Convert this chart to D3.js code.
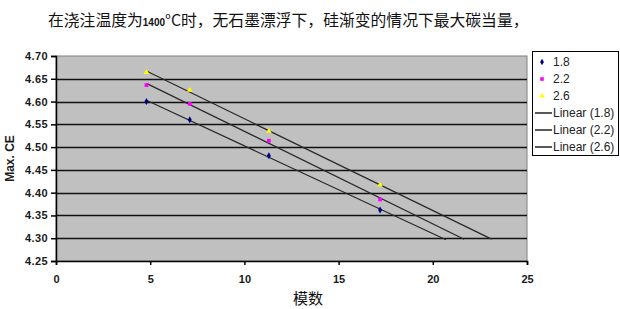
<!DOCTYPE html>
<html>
<head>
<meta charset="utf-8">
<script src="https://cdn.jsdelivr.net/npm/d3@7"></script>
<style>
html,body{margin:0;padding:0;background:#fff;}
svg{display:block;}
</style>
</head>
<body>
<svg id="chart" width="620" height="309"></svg>
<script>
// ---- data ----
const moduli = [4.8, 7.1, 11.3, 17.2];
const seriesNames = ["1.8", "2.2", "2.6"];
const ce18 = [4.600, 4.560, 4.481, 4.362];
const ce22 = [4.636, 4.595, 4.514, 4.385];
const ce26 = [4.664, 4.625, 4.535, 4.417];
const trendEnd = [20.7, 21.66, 23.12];
const xTicks = [0, 5, 10, 15, 20, 25];
const yTicks = [4.25, 4.30, 4.35, 4.40, 4.45, 4.50, 4.55, 4.60, 4.65, 4.70];
const seriesColors = ["#000080", "#ff00ff", "#ffff00"];
const seriesSymbols = [d3.symbolDiamond, d3.symbolSquare, d3.symbolTriangle];

const series = [ce18, ce22, ce26].map((vals, i) => ({
  name: seriesNames[i],
  color: seriesColors[i],
  symbol: seriesSymbols[i],
  end: trendEnd[i],
  points: moduli.map((m, j) => ({x: m, y: vals[j]}))
}));

const svg = d3.select("#chart");
const L = 56, R = 527, T = 56, B = 261;
const x = d3.scaleLinear().domain([0, 25]).range([L, R]);
const y = d3.scaleLinear().domain([4.25, 4.70]).range([B, T]);

// title
const title = svg.append("text").attr("x", 48).attr("y", 26)
  .attr("font-family", "'Noto Sans CJK SC', sans-serif").attr("font-size", 15.8).attr("fill", "#111");
title.append("tspan").text("在浇注温度为");
title.append("tspan").attr("font-family", "'Liberation Sans', Arial, sans-serif")
  .attr("font-weight", "bold").attr("font-size", 10).text("1400");
title.append("tspan").text("°C时，无石墨漂浮下，硅渐变的情况下最大碳当量，");

// plot area
svg.append("rect").attr("x", L).attr("y", T).attr("width", R - L).attr("height", B - T)
  .attr("fill", "#c0c0c0").attr("stroke", "#808080").attr("stroke-width", 1);

// gridlines
svg.append("g").selectAll("line").data(yTicks.filter(v => v > 4.251 && v < 4.699)).join("line")
  .attr("x1", L).attr("x2", R)
  .attr("y1", d => Math.round(y(d)) + 0.5).attr("y2", d => Math.round(y(d)) + 0.5)
  .attr("stroke", "#111").attr("stroke-width", 1.7);

// axes
const yAxis = svg.append("g").attr("transform", `translate(${L},0)`)
  .call(d3.axisLeft(y).tickValues(yTicks).tickFormat(d3.format(".2f")).tickSize(5).tickPadding(3));
const xAxis = svg.append("g").attr("transform", `translate(0,${B})`)
  .call(d3.axisBottom(x).tickValues(xTicks).tickFormat(d3.format("d")).tickSize(4).tickPadding(10));
[yAxis, xAxis].forEach(g => {
  g.select(".domain").attr("stroke", "#000").attr("stroke-width", 1.5);
  g.selectAll(".tick line").attr("stroke", "#000").attr("stroke-width", 1.5);
  g.selectAll("text").attr("font-family", "'Liberation Sans', Arial, sans-serif")
    .attr("font-weight", "bold").attr("font-size", 11).attr("fill", "#1a1a1a");
});
yAxis.selectAll("text").attr("letter-spacing", "0.4px");

// axis titles
svg.append("text").attr("transform", `translate(14,${(T + B) / 2}) rotate(-90)`)
  .attr("text-anchor", "middle")
  .attr("font-family", "'Liberation Sans', Arial, sans-serif").attr("font-weight", "bold")
  .attr("font-size", 12).attr("fill", "#1a1a1a").text("Max. CE");
svg.append("text").attr("x", 308).attr("y", 304).attr("text-anchor", "middle")
  .attr("font-family", "'Noto Sans CJK SC', sans-serif").attr("font-size", 15).attr("fill", "#111")
  .text("模数");

// trendlines (least squares)
series.forEach(s => {
  const mx = d3.mean(s.points, p => p.x), my = d3.mean(s.points, p => p.y);
  const sxy = d3.sum(s.points, p => (p.x - mx) * (p.y - my));
  const sxx = d3.sum(s.points, p => (p.x - mx) ** 2);
  const k = sxy / sxx, b = my - k * mx;
  const x0 = d3.min(s.points, p => p.x);
  svg.append("line")
    .attr("x1", x(x0)).attr("y1", y(k * x0 + b))
    .attr("x2", x(s.end)).attr("y2", y(k * s.end + b))
    .attr("stroke", "#2a2a2a").attr("stroke-width", 1.3);
});

// markers
series.forEach(s => {
  svg.append("g").selectAll("path").data(s.points).join("path")
    .attr("transform", p => `translate(${x(p.x)},${y(p.y)})`)
    .attr("d", d3.symbol().type(s.symbol).size(14))
    .attr("fill", s.color);
});

// legend
const lg = svg.append("g");
lg.append("rect").attr("x", 532.5).attr("y", 51.5).attr("width", 86).attr("height", 104)
  .attr("fill", "#fff").attr("stroke", "#000").attr("stroke-width", 1);
const rowY = i => 62 + i * 17;
series.forEach((s, i) => {
  lg.append("path").attr("transform", `translate(542,${rowY(i)})`)
    .attr("d", d3.symbol().type(s.symbol).size(13)).attr("fill", s.color);
  lg.append("text").attr("x", 553).attr("y", rowY(i) + 4)
    .attr("font-family", "'Liberation Sans', Arial, sans-serif").attr("font-size", 12).attr("fill", "#222")
    .text(s.name);
});
series.forEach((s, i) => {
  const yy = rowY(i + 3);
  lg.append("line").attr("x1", 535).attr("x2", 552).attr("y1", yy).attr("y2", yy)
    .attr("stroke", "#222").attr("stroke-width", 1.5);
  lg.append("text").attr("x", 553).attr("y", yy + 4)
    .attr("font-family", "'Liberation Sans', Arial, sans-serif").attr("font-size", 12).attr("fill", "#222")
    .text(`Linear (${s.name})`);
});
</script>
</body>
</html>
